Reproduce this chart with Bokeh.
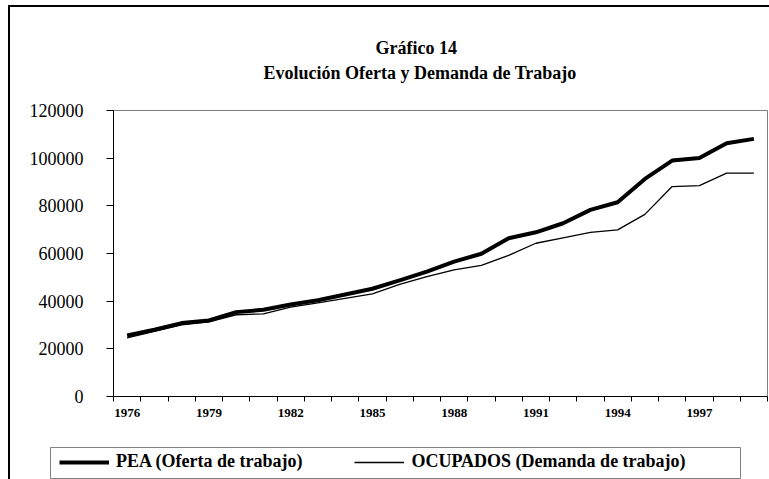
from bokeh.plotting import figure
from bokeh.layouts import column, row
from bokeh.models import (Range1d, FixedTicker, NumeralTickFormatter, Title, Legend,
                          LegendItem, InlineStyleSheet)
from bokeh.embed import file_html
from bokeh.resources import INLINE

# ---- data ----
years = list(range(1976, 2000))
pea = [25600, 28000, 30800, 31900, 35400, 36400, 38600, 40400, 42800, 45200,
       48700, 52400, 56600, 59900, 66400, 68900, 72700, 78300, 81500, 91300,
       99000, 100100, 106300, 108100]
ocupados = [24600, 27300, 30100, 31300, 34300, 34700, 37500, 39300, 41200, 43100,
            47000, 50300, 53100, 55000, 59200, 64300, 66600, 68900, 69900, 76400,
            88100, 88500, 93700, 93700]
label_years = [1976, 1979, 1982, 1985, 1988, 1991, 1994, 1997]
y_ticks = [0, 20000, 40000, 60000, 80000, 100000, 120000]
title1 = "Gráfico 14"
title2 = "Evolución Oferta y Demanda de Trabajo"
name_pea = "PEA (Oferta de trabajo)"
name_ocu = "OCUPADOS (Demanda de trabajo)"

SERIF = "Liberation Serif"

p = figure(width=769, height=446, output_backend="svg", toolbar_location=None,
           x_range=Range1d(years[0] - 0.5, years[-1] + 0.5),
           y_range=Range1d(0, 120000),
           min_border_left=113, min_border_right=2, min_border_top=110,
           min_border_bottom=50)
p.xgrid.visible = False
p.ygrid.visible = False
p.outline_line_color = "#808080"
p.outline_line_width = 1
p.background_fill_color = "white"
p.border_fill_color = "white"

# x axis: labels at category centres, small ticks at category boundaries
xa = p.xaxis[0]
xa.ticker = FixedTicker(ticks=label_years,
                        minor_ticks=[y - 0.5 for y in years] + [years[-1] + 0.5])
xa.major_tick_out = 0
xa.major_tick_in = 0
xa.minor_tick_out = 5
xa.minor_tick_in = 0
xa.minor_tick_line_color = "black"
xa.axis_line_color = "black"
xa.major_label_text_font = SERIF
xa.major_label_text_font_style = "bold"
xa.major_label_text_font_size = "13px"
xa.major_label_text_color = "black"
xa.major_label_standoff = 7

ya = p.yaxis[0]
ya.ticker = FixedTicker(ticks=y_ticks, minor_ticks=[])
ya.formatter = NumeralTickFormatter(format="0")
ya.major_tick_out = 7
ya.major_tick_in = 0
ya.major_tick_line_color = "black"
ya.axis_line_color = "black"
ya.major_label_text_font = SERIF
ya.major_label_text_font_size = "18px"
ya.major_label_text_color = "black"
ya.major_label_standoff = 23

p.line(years, pea, line_color="black", line_width=4, line_join="round")
p.line(years, ocupados, line_color="black", line_width=1.3, line_join="round")

# titles: nearest the frame first
p.add_layout(Title(text=title2, align="left", offset=150, standoff=0,
                   padding=(0, 0, 0, 28),
                   text_font=SERIF, text_font_style="bold", text_font_size="18px",
                   text_color="black"), "above")
p.add_layout(Title(text=title1, align="left", offset=262, standoff=6,
                   text_font=SERIF, text_font_style="bold", text_font_size="18px",
                   text_color="black"), "above")

BORDER_CSS = """:host { position: relative; }
:host::after { content: ""; position: absolute; left: 8px; top: %s; width: 100%%; height: 100%%;
 border-left: 2px solid black; %s box-sizing: border-box; pointer-events: none; z-index: 10; }"""
p.stylesheets = [InlineStyleSheet(css=BORDER_CSS % ("5px", "border-top: 2px solid black;"))]

# legend panel (its frame outline is the legend box); the series are drawn
# here again only so the legend has renderers - they lie outside its ranges
pl = figure(width=769, height=33, output_backend="svg", toolbar_location=None,
            x_range=Range1d(0, 1), y_range=Range1d(0, 1),
            x_axis_location=None, y_axis_location=None,
            min_border_left=50, min_border_right=29, min_border_top=1,
            min_border_bottom=0)
pl.xgrid.visible = False
pl.ygrid.visible = False
pl.outline_line_color = "#808080"
pl.outline_line_width = 1
pl.border_fill_color = "white"
l1 = pl.line(years, pea, line_color="black", line_width=4)
l2 = pl.line(years, ocupados, line_color="black", line_width=1.3)
legend = Legend(items=[LegendItem(label=name_pea, renderers=[l1]),
                       LegendItem(label=name_ocu, renderers=[l2])],
                orientation="horizontal", location=(4, 2),
                padding=5, spacing=52, glyph_width=50, glyph_height=20,
                label_standoff=7, label_text_font=SERIF, label_text_font_style="bold",
                label_text_font_size="18px", label_text_color="black",
                border_line_alpha=0, background_fill_alpha=0, margin=0)
pl.add_layout(legend, "center")
pl.stylesheets = [InlineStyleSheet(css=BORDER_CSS % ("0px", ""))]

open("out.html", "w").write(file_html(column(p, row(pl), spacing=0), INLINE))
